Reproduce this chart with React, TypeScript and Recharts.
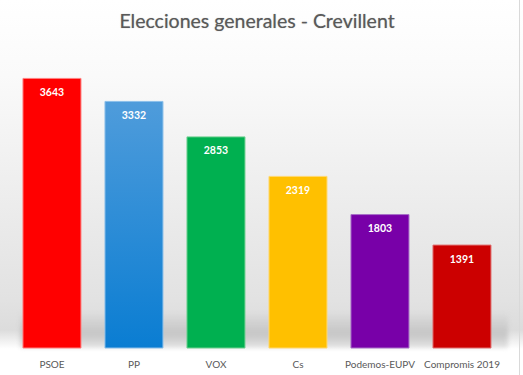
import React from "react";
import { BarChart, Bar, XAxis, YAxis, Cell, LabelList } from "recharts";

const categories = ["PSOE", "PP", "VOX", "Cs", "Podemos-EUPV", "Compromis 2019"];
const votes = [3643, 3332, 2853, 2319, 1803, 1391];
const colors = ["#FF0000", "url(#ppGrad)", "#00B050", "#FFC000", "#7800A8", "#CC0000"];
const strokes = ["#ff8080", "#8cc0ea", "#70d090", "#ffd870", "#a870c8", "#e07070"];

const data = categories.map((name, i) => ({ name, value: votes[i] }));

const Tick = (props: any) => {
  const { x, y, payload } = props;
  return (
    <text x={x} y={y + 12} textAnchor="middle" fill="#595959" fontSize={10} fontFamily="Lato, sans-serif">
      {payload.value}
    </text>
  );
};

export default function App() {
  return (
    <div
      style={{
        position: "absolute",
        left: 0,
        top: 0,
        width: 523,
        height: 375,
        background: "linear-gradient(to bottom, #ffffff 0%, #fafafa 20%, #ececec 55%, #e2e2e2 80%, #dcdcdc 88%, #ffffff 93%, #ffffff 100%)",
        overflow: "hidden",
      }}
    >
      <div
        style={{
          position: "absolute",
          top: 9,
          left: 0,
          width: 514,
          textAlign: "center",
          fontFamily: "Lato, sans-serif",
          fontSize: 19.5,
          color: "#595959",
          textShadow: "0 0 1px rgba(80,80,80,0.5)",
        }}
      >
        Elecciones generales - Crevillent
      </div>
      <div style={{ position: "absolute", left: 519, top: 0, width: 1, height: 375, background: "#d9d9d9" }} />
      <div
        style={{
          position: "absolute",
          left: 20,
          top: 312,
          width: 488,
          height: 36,
          background: "linear-gradient(to bottom, rgba(200,200,200,0) 0%, rgba(195,195,195,0.9) 60%, rgba(215,215,215,0.6) 100%)",
          filter: "blur(2px)",
        }}
      />
      <div style={{ position: "absolute", left: 0, top: 0 }}>
        <BarChart width={523} height={375} data={data} margin={{ top: 52, right: 20, bottom: 7, left: 11 }} barCategoryGap="14.6%">
          <defs>
            <linearGradient id="ppGrad" x1="0" y1="0" x2="0" y2="1">
              <stop offset="0%" stopColor="#4F9CDB" />
              <stop offset="100%" stopColor="#0A7DD2" />
            </linearGradient>
          </defs>
          <XAxis dataKey="name" axisLine={false} tickLine={false} tick={<Tick />} height={20} interval={0} />
          <YAxis hide domain={[0, 4000]} />
          <Bar dataKey="value" isAnimationActive={false}>
            {data.map((d, i) => (
              <Cell key={d.name} fill={colors[i]} stroke={strokes[i]} strokeWidth={1} />
            ))}
            <LabelList
              dataKey="value"
              position="insideTop"
              offset={10}
              fill="#ffffff"
              fontSize={10.5}
              fontWeight="bold"
              fontFamily="Lato, sans-serif"
            />
          </Bar>
        </BarChart>
      </div>
    </div>
  );
}
